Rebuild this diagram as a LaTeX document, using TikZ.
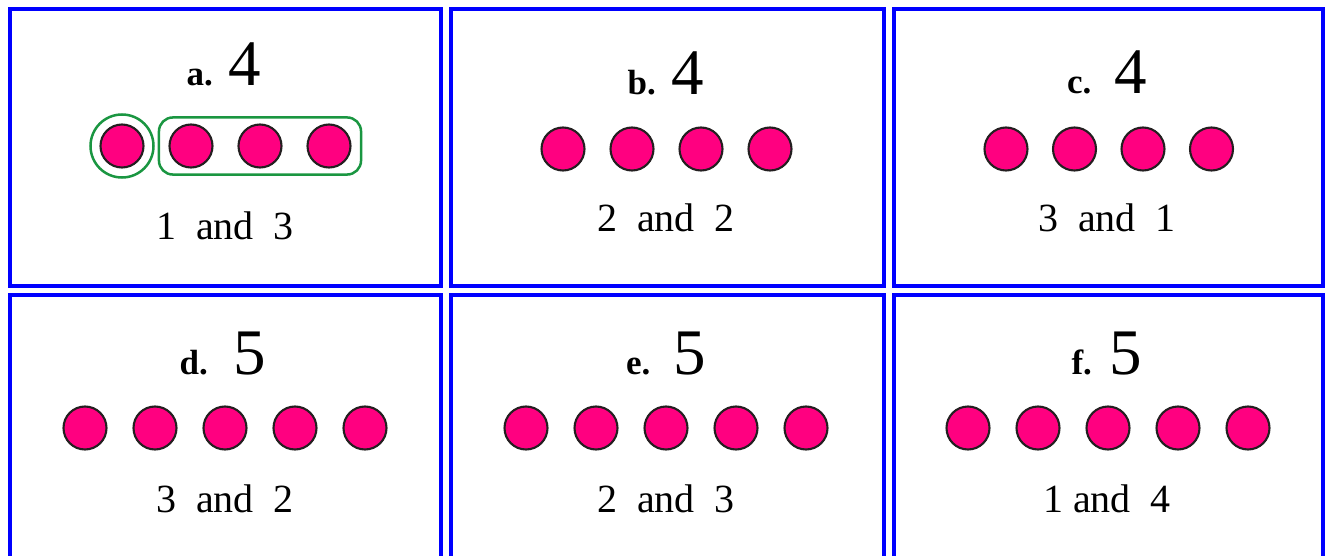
\documentclass[tikz,border=0pt]{standalone}
\usepackage{fontspec}
\setmainfont{Liberation Serif}
\usetikzlibrary{fit}
\definecolor{panelblue}{HTML}{0000FF}
\definecolor{counterpink}{HTML}{FF0080}
\definecolor{rim}{HTML}{231F20}
\definecolor{groupgreen}{HTML}{1A9641}
\tikzset{
  panel/.style={draw=panelblue,line width=4pt,inner sep=0pt},
  counter/.style={circle,draw=rim,fill=counterpink,line width=2.1pt,
    minimum size=43pt,inner sep=0pt},
  numtitle/.style={anchor=base,inner sep=0pt},
  parts/.style={anchor=base,inner sep=0pt,font=\fontsize{40}{44}\selectfont},
  grouping/.style={draw=groupgreen,line width=2.5pt}
}
\newcommand{\numhead}[3]{{\fontsize{35}{38}\selectfont\bfseries #1}\hspace{#3}{\fontsize{65}{70}\selectfont #2}}

\begin{document}
\begin{tikzpicture}[x=1pt,y=-1pt]
  \clip (0,0) rectangle (1325,556);
  % frames
  \node[panel,minimum width=431.5pt,minimum height=276.5pt] (pa) at (225.25,147.25) {};
  \node[panel,minimum width=432.5pt,minimum height=276.5pt] (pb) at (667.25,147.25) {};
  \node[panel,minimum width=429pt,minimum height=276.5pt] (pc) at (1108.5,147.25) {};
  \node[panel,minimum width=431.5pt,minimum height=290pt] (pd) at (225.25,440) {};
  \node[panel,minimum width=432.5pt,minimum height=290pt] (pe) at (667.25,440) {};
  \node[panel,minimum width=429pt,minimum height=290pt] (pf) at (1108.5,440) {};
  % headings
  \node[numtitle] (ta) at (224,86) {\numhead{a.}{4}{16pt}};
  \node[numtitle] (tb) at (666,95) {\numhead{b.}{4}{16pt}};
  \node[numtitle] (tc) at (1107,94) {\numhead{c.}{4}{23pt}};
  \node[numtitle] (td) at (223,374) {\numhead{d.}{5}{26pt}};
  \node[numtitle] (te) at (666,374) {\numhead{e.}{5}{23pt}};
  \node[numtitle] (tf) at (1107,374) {\numhead{f.}{5}{18pt}};
  % counters
  \foreach \i in {1,...,4} {
    \node[counter] (a\i) at ({122+69*(\i-1)},146) {};
    \node[counter] (b\i) at ({563+69*(\i-1)},149) {};
    \node[counter] (c\i) at ({1006+68.5*(\i-1)},149) {};
  }
  \foreach \i in {1,...,5} {
    \node[counter] (d\i) at ({85+70*(\i-1)},428) {};
    \node[counter] (e\i) at ({526+70*(\i-1)},428) {};
    \node[counter] (f\i) at ({968+70*(\i-1)},428) {};
  }
  % split of a
  \node[grouping,circle,minimum size=63pt,inner sep=0pt] (ga) at (a1) {};
  \node[grouping,rounded corners=14pt,inner xsep=9.5pt,inner ysep=6pt,fit=(a2)(a4)] (gb) {};
  % parts
  \node[parts] (sa) at (225,240) {1\ \ and\ \ 3};
  \node[parts] (sb) at (666,232) {2\ \ and\ \ 2};
  \node[parts] (sc) at (1107,232) {3\ \ and\ \ 1};
  \node[parts] (sd) at (225,512) {3\ \ and\ \ 2};
  \node[parts] (se) at (666,512) {2\ \ and\ \ 3};
  \node[parts] (sf) at (1107,512) {1 and\ \ 4};
\end{tikzpicture}
\end{document}
